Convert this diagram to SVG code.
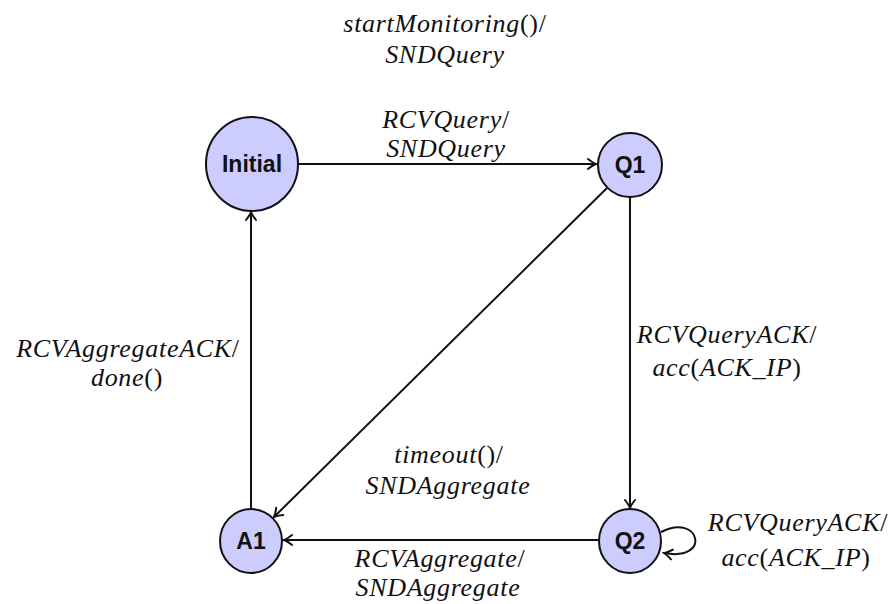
<svg xmlns="http://www.w3.org/2000/svg" width="896" height="604" viewBox="0 0 896 604">
<defs>
<style>
.node{fill:#ccccff;stroke:#111;stroke-width:2}
.nl{font-family:"Liberation Sans",Arial,sans-serif;font-weight:bold;font-size:23px;fill:#111;text-anchor:middle}
.lb{font-family:"Liberation Serif","Times New Roman",serif;font-style:italic;font-size:26px;fill:#111;text-anchor:middle;letter-spacing:0.7px}
.up{font-style:normal}
.ed{fill:none;stroke:#111;stroke-width:2;marker-end:url(#arr)}
</style>
<marker id="arr" viewBox="-10 -6 12 12" refX="0" refY="0" markerWidth="12" markerHeight="12" markerUnits="userSpaceOnUse" orient="auto">
<path d="M-8,-5 Q-3,-1 0,0 Q-3,1 -8,5" fill="none" stroke="#111" stroke-width="2" stroke-linecap="round"/>
</marker>
</defs>
<g id="connectors">
<line class="ed" x1="298" y1="164" x2="596" y2="164"/>
<line class="ed" x1="607" y1="188" x2="274" y2="517"/>
<line class="ed" x1="630" y1="197" x2="630" y2="508"/>
<line class="ed" x1="598" y1="540" x2="284" y2="540"/>
<line class="ed" x1="251" y1="509" x2="251" y2="212"/>
<path class="ed" d="M661,532 C700,512 712,562 664,553"/>
</g>
<g id="labels">
<text class="lb" x="445" y="32">startMonitoring<tspan class="up">()/</tspan></text>
<text class="lb" x="445" y="63">SNDQuery</text>
<text class="lb" x="446" y="128">RCVQuery<tspan class="up">/</tspan></text>
<text class="lb" x="446" y="157">SNDQuery</text>
<text class="lb" x="128" y="357">RCVAggregateACK<tspan class="up">/</tspan></text>
<text class="lb" x="127" y="386">done<tspan class="up">()</tspan></text>
<text class="lb" x="727" y="343">RCVQueryACK<tspan class="up">/</tspan></text>
<text class="lb" x="727" y="376">acc<tspan class="up">(</tspan>ACK_IP<tspan class="up">)</tspan></text>
<text class="lb" x="449" y="463">timeout<tspan class="up">()/</tspan></text>
<text class="lb" x="448" y="494">SNDAggregate</text>
<text class="lb" x="440" y="567">RCVAggregate<tspan class="up">/</tspan></text>
<text class="lb" x="438" y="596">SNDAggregate</text>
<text class="lb" x="798" y="531">RCVQueryACK<tspan class="up">/</tspan></text>
<text class="lb" x="796" y="566">acc<tspan class="up">(</tspan>ACK_IP<tspan class="up">)</tspan></text>
</g>
<g id="Initial">
<ellipse class="node" cx="252" cy="164" rx="46" ry="47"/>
<text class="nl" x="252" y="172">Initial</text>
</g>
<g id="Q1">
<circle class="node" cx="630" cy="165" r="32"/>
<text class="nl" x="630" y="173">Q1</text>
</g>
<g id="A1">
<ellipse class="node" cx="251" cy="541" rx="31" ry="32"/>
<text class="nl" x="251" y="549">A1</text>
</g>
<g id="Q2">
<ellipse class="node" cx="630" cy="541" rx="31" ry="32"/>
<text class="nl" x="630" y="549">Q2</text>
</g>
</svg>
